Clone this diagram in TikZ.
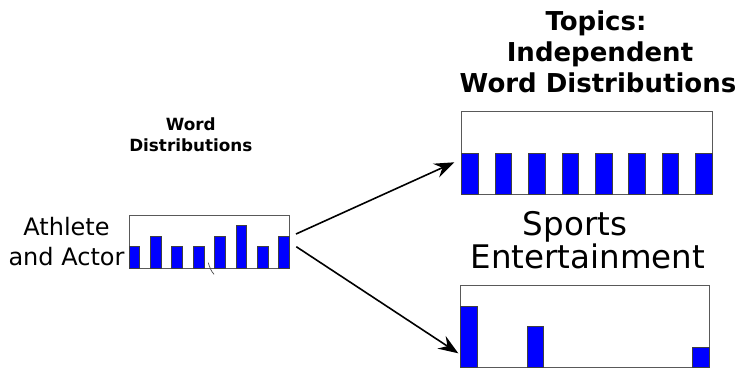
\documentclass[tikz,border=0pt]{standalone}
\usepackage{fontspec}
\setmainfont{DejaVu Sans}
\usetikzlibrary{arrows.meta}
\begin{document}
\begin{tikzpicture}[x=1pt,y=-1pt,
  frame/.style={draw=black!65, line width=1pt, inner sep=0pt, outer sep=0pt, anchor=north west},
  bar/.style={fill=blue, draw=black!75, line width=0.7pt},
  txt/.style={anchor=base, inner sep=0pt},
  reg/.style={txt, font=\fontsize{24}{29}\selectfont},
  big/.style={txt, font=\fontsize{32.5}{38}\selectfont},
  ttl/.style={txt, font=\fontsize{26}{31}\selectfont\bfseries},
  sml/.style={txt, font=\fontsize{16.8}{20}\selectfont\bfseries},
  arr/.style={line width=1.6pt, -{Stealth[length=20pt,width=15pt,inset=7pt]}}]
\useasboundingbox (0,0) rectangle (739,368);

% texts
\node[reg] (ath1) at (66.5,235) {Athlete};
\node[reg] (ath2) at (66.5,265.7) {and Actor};
\node[sml] (wd1) at (190.8,130) {Word};
\node[sml] (wd2) at (190.8,151) {Distributions};
\node[ttl] (t1) at (596,30) {Topics:};
\node[ttl] (t2) at (600,61) {Independent};
\node[ttl] (t3) at (598,92) {Word Distributions};
\node[big] (sp) at (575,235) {Sports};
\node[big] (en) at (588,268.3) {Entertainment};

% boxes
\node[frame, minimum width=160.5pt, minimum height=53pt] (src) at (129,215) {};
\node[frame, minimum width=250.6pt, minimum height=82.6pt] (top) at (461.7,111.7) {};
\node[frame, minimum width=248.6pt, minimum height=82pt] (bot) at (460.7,285) {};

% bars of the source distribution
\foreach \i/\h in {0/21.3,1/32,2/21.3,3/21.3,4/32,5/43,6/21.3,7/32}
  \draw[bar] ({129+21.4*\i},268) rectangle ({139.7+21.4*\i},{268-\h});

% bars of the upper topic
\foreach \i in {0,...,7}
  \draw[bar] ({461.7+33.4*\i},194.3) rectangle ({478.4+33.4*\i},153.3);

% bars of the lower topic
\foreach \i/\t in {0/306,2/326.7,7/347.3}
  \draw[bar] ({460.7+33.14*\i},367) rectangle ({477.3+33.14*\i},\t);

% small stroke
\draw[black!70, line width=0.7pt] (208.3,262.7) .. controls (209.5,267) and (211,271) .. (214,274.3);

% arrows
\draw[arr] ([xshift=6.5pt,yshift=7.5pt]src.east) -- ([xshift=-7.4pt,yshift=-9.3pt]top.west);
\draw[arr] ([xshift=6.8pt,yshift=-5.2pt]src.east) -- ([xshift=-2.4pt,yshift=-27.3pt]bot.west);
\end{tikzpicture}
\end{document}
